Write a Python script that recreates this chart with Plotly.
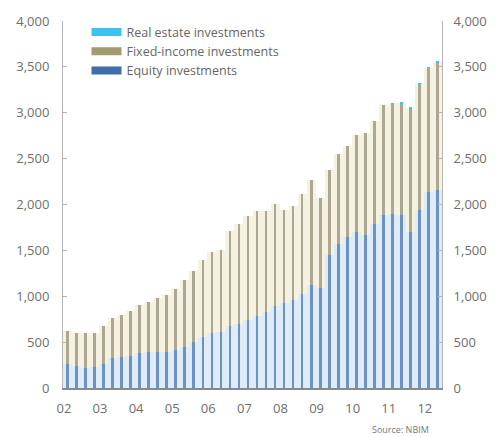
import plotly.graph_objects as go

# Quarterly, 2002 Q1 .. 2012 Q2 (billion NOK)
quarters = [f"{y}Q{q}" for y in range(2002, 2013) for q in range(1, 5)][:42]
equity = [258, 236, 222, 229, 266, 325, 333, 345, 385, 390, 392, 396, 410, 450,
          500, 560, 595, 615, 672, 701, 737, 781, 828, 890, 926, 955, 1021, 1119,
          1094, 1446, 1573, 1645, 1700, 1663, 1791, 1881, 1892, 1881, 1700, 1935,
          2135, 2154]
fixed_income = [360, 363, 377, 370, 409, 438, 467, 494, 523, 547, 585, 614, 668, 723,
                770, 839, 887, 885, 1039, 1082, 1133, 1147, 1100, 1119, 1010, 1028,
                1097, 1151, 981, 933, 973, 988, 1053, 1119, 1118, 1199, 1211, 1224,
                1349, 1374, 1353, 1396]
real_estate = [0] * 36 + [2, 4, 5, 7, 9, 10]
year_labels = ["02", "03", "04", "05", "06", "07", "08", "09", "10", "11", "12"]
y_ticks = [0, 500, 1000, 1500, 2000, 2500, 3000, 3500, 4000]

idx = list(range(len(quarters)))
base_fixed = equity
base_re = [e + f for e, f in zip(equity, fixed_income)]

C_EQ, C_EQ_PALE = "#6d91c0", "#deebf8"
C_FI, C_FI_PALE = "#ada690", "#f6f2e2"
C_RE = "#3ec3f0"
LEG_EQ, LEG_FI = "#3f6fa6", "#a49a72"

fig = go.Figure()
# soft halo behind the thin bars
fig.add_bar(x=idx, y=equity, width=1.0, marker_color=C_EQ_PALE, marker_line_width=0,
            showlegend=False, hoverinfo="skip")
fig.add_bar(x=idx, y=fixed_income, base=base_fixed, width=1.0, marker_color=C_FI_PALE,
            marker_line_width=0, showlegend=False, hoverinfo="skip")
# thin bars
fig.add_bar(x=idx, y=equity, width=0.3, marker_color=C_EQ, marker_line_width=0,
            showlegend=False, name="Equity investments")
fig.add_bar(x=idx, y=fixed_income, base=base_fixed, width=0.3, marker_color=C_FI,
            marker_line_width=0, showlegend=False, name="Fixed-income investments")
fig.add_bar(x=idx, y=real_estate, base=base_re, width=0.3, marker_color=C_RE,
            marker_line_width=0, showlegend=False, name="Real estate investments")

# legend entries
for name, col in [("Real estate investments", C_RE),
                  ("Fixed-income investments", LEG_FI),
                  ("Equity investments", LEG_EQ)]:
    fig.add_scatter(x=[None], y=[None], mode="lines", name=name,
                    line=dict(color=col, width=8))

axis_font = dict(family="Open Sans", size=13, color="#6e6e6e")

fig.update_layout(
    width=499, height=437,
    margin=dict(l=63, r=52, t=20, b=49),
    paper_bgcolor="white", plot_bgcolor="white",
    barmode="overlay", bargap=0,
    showlegend=True,
    legend=dict(x=0.062, y=1.01, xanchor="left", yanchor="top",
                bgcolor="rgba(0,0,0,0)", traceorder="normal",
                font=dict(family="Open Sans", size=12.5, color="#666666"),
                itemwidth=30, tracegroupgap=0),
    xaxis=dict(range=[-0.5, 41.5], tickmode="array",
               tickvals=[4 * k - 0.4 for k in range(len(year_labels))],
               ticktext=year_labels, showgrid=False, zeroline=False,
               showline=True, linecolor="#8a8a8a", linewidth=1.5,
               ticks="", tickfont=axis_font, ticklabelstandoff=8),
    yaxis=dict(range=[0, 4000], tickvals=y_ticks, tickformat=",d",
               showgrid=False, zeroline=False, showline=True,
               linecolor="#b5b5b5", linewidth=1, ticks="inside", ticklen=4,
               tickcolor="#b5b5b5", tickfont=axis_font, ticklabelstandoff=10),
    yaxis2=dict(range=[0, 4000], tickvals=y_ticks, tickformat=",d",
                overlaying="y", side="right", showgrid=False, zeroline=False,
                showline=True, linecolor="#b5b5b5", linewidth=1,
                ticks="inside", ticklen=4, tickcolor="#b5b5b5",
                tickfont=axis_font, ticklabelstandoff=8),
    annotations=[dict(text="Source: NBIM", x=0.97, y=0, xref="paper", yref="paper",
                      xanchor="right", yanchor="top", yshift=-33, showarrow=False,
                      font=dict(family="Open Sans", size=9, color="#777777"))],
)
# dummy trace so the right axis renders
fig.add_scatter(x=[None], y=[None], yaxis="y2", showlegend=False, hoverinfo="skip")

fig.write_html("out.html")
